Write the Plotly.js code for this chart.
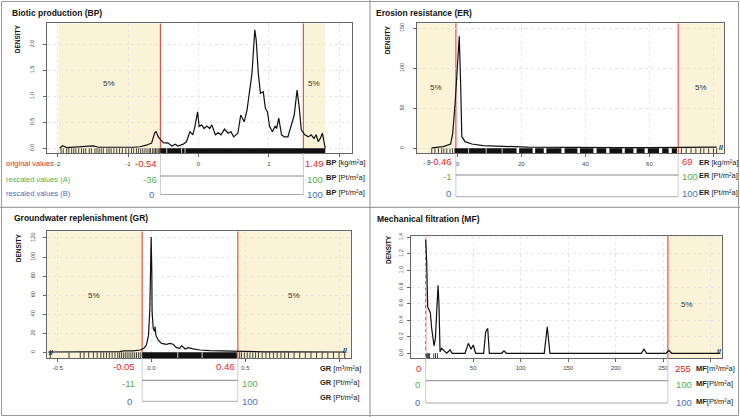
<!DOCTYPE html>
<html><head><meta charset="utf-8">
<script src="https://cdn.plot.ly/plotly-3.0.1.min.js"></script>
<style>html,body{margin:0;padding:0;background:#fff}#chart{width:740px;height:417px}</style>
</head><body><div id="chart"></div>
<script>
// ---------- Biotic production (BP) ----------
const bpX = [-1.97,-1.93,-1.87,-1.80,-1.70,-1.60,-1.49,-1.42,-1.30,-1.20,-1.10,-1.02,-0.92,-0.83,-0.74,-0.665,-0.62,-0.60,-0.585,-0.57,-0.54,-0.50,-0.43,-0.38,-0.33,-0.29,-0.215,-0.17,-0.12,-0.08,-0.05,-0.012,0.01,0.045,0.08,0.12,0.16,0.19,0.24,0.28,0.32,0.37,0.42,0.46,0.50,0.56,0.60,0.65,0.69,0.73,0.76,0.80,0.82,0.85,0.88,0.92,0.95,0.98,1.01,1.05,1.09,1.11,1.14,1.18,1.22,1.27,1.32,1.36,1.40,1.43,1.46,1.51,1.56,1.60,1.64,1.67,1.70,1.73,1.76,1.78,1.80];
const bpY = [0.0,0.05,0.015,0.02,0.02,0.025,0.045,0.02,0.02,0.025,0.02,0.015,0.02,0.03,0.06,0.10,0.30,0.32,0.26,0.22,0.17,0.11,0.10,0.045,0.08,0.045,0.08,0.13,0.32,0.26,0.42,0.70,0.42,0.45,0.38,0.43,0.38,0.45,0.26,0.30,0.26,0.37,0.29,0.32,0.22,0.29,0.64,0.51,0.74,1.12,1.44,2.28,2.08,1.44,1.06,1.09,0.77,0.70,0.42,0.32,0.43,0.38,0.58,0.26,0.22,0.22,0.48,0.64,1.12,0.80,0.35,0.26,0.22,0.26,0.19,0.26,0.13,0.19,0.29,0.13,0.0];
const bpRug = [-1.95,-1.92,-1.87,-1.84,-1.80,-1.77,-1.74,-1.70,-1.66,-1.63,-1.60,-1.55,-1.52,-1.47,-1.44,-1.41,-1.38,-1.35,-1.30,-1.27,-1.24,-1.20,-1.16,-1.12,-1.08,-1.03,-0.99,-0.95,-0.92,-0.88,-0.85,-0.82,-0.79,-0.76,-0.73,-0.70,-0.68,-0.65,-0.63,-0.61,-0.59,-0.57,-0.55];
const bpDense = [[-0.54, 1.80]];
const bpGaps = [-0.45, -0.24, -0.19];
const bpLo = -0.54, bpHi = 1.49, bpMin = -1.99, bpMax = 1.80;
const bpA = [-36, 100], bpB = [0, 100];
const bpXt = [-2,-1,0,1,2], bpXl = ['-2','-1','0','1',''];
const bpYt = [0,0.5,1,1.5,2], bpYl = ['0.0','0.5','1.0','1.5','2.0'];

// ---------- Erosion resistance (ER) ----------
const erX = [-8,-6,-4.4,-2.1,-1.45,-0.7,0.1,0.6,1.05,1.4,2.4,4.5,8.1,12,16.5,18,22,28,29,31,40,50,60,70,78,81];
const erY = [0.5,1.2,2.1,5.4,18.7,56,110,140,77,14.5,8.3,5.4,3.3,3.0,2.9,2.0,1.5,1.2,1.8,1.1,1.0,0.9,0.8,0.7,0.8,1.5];
const erRug = [-8,-7,-5.9,-4.9,-4.2,-3.3,-2.3,-1.5,70,71.5,73,74.5,76,77,78.5,80,81];
const erDense = [[-0.9,18.5],[19.3,23.5],[24.3,27],[27.8,32.5],[33.5,37.5],[38.3,42.5],[43.5,46.5],[47.5,51.5],[52.3,55],[56,58.5],[59.5,63],[64,66],[67,68.6]];
const erGaps = [3.5, 9, 14];
const erLo = -0.46, erHi = 69, erMin = -8;
const erA = [-1, 100], erB = [0, 100];
const erXt = [0,20,40,60,80], erXl = ['0','20','40','60',''];
const erYt = [0,50,100,150], erYl = ['0','50','100','150'];

// ---------- Groundwater replenishment (GR) ----------
const grX = [-0.55,-0.45,-0.35,-0.30,-0.27,-0.20,-0.169,-0.15,-0.12,-0.098,-0.06,-0.041,-0.027,-0.016,-0.009,-0.005,-0.002,0.0016,0.003,0.009,0.016,0.019,0.023,0.035,0.053,0.08,0.097,0.115,0.133,0.15,0.16,0.18,0.195,0.222,0.257,0.31,0.363,0.434,0.45,0.5,0.6,0.7,0.8,0.9,1.03];
const grY = [0.3,0.3,0.5,1.0,0.5,0.8,0.7,1.5,1.0,1.4,2.4,4.2,7.7,18,46,81,121,83,42.7,25,22,27,18,13,9.4,8.4,9.4,8.4,4.9,4.2,7,3.5,4.9,3.5,2.4,1.7,1.4,1.0,1.4,0.6,0.5,0.4,0.3,0.3,0.3];
const grRug = [-0.54,-0.44,-0.38,-0.36,-0.335,-0.31,-0.29,-0.27,-0.255,-0.24,-0.225,-0.21,-0.195,-0.18,-0.17,-0.16,-0.15,-0.14,-0.13,-0.12,-0.11,-0.10,-0.09,-0.08,-0.07,-0.06,0.47,0.48,0.495,0.51,0.525,0.54,0.555,0.57,0.59,0.61,0.63,0.65,0.67,0.69,0.71,0.73,0.76,0.79,0.82,0.85,0.88,0.91,0.94,0.97,1.0,1.03];
const grDense = [[-0.05, 0.455]];
const grGaps = [0.14, 0.27];
const grLo = -0.05, grHi = 0.46;
const grA = [-11, 100], grB = [0, 100];
const grXt = [-0.5,0,0.5,1], grXl = ['-0.5','0.0','0.5',''];
const grYt = [0,20,40,60,80,100,120], grYl = ['0','20','40','60','80','100','120'];

// ---------- Mechanical filtration (MF) ----------
const mfX = [0,1.05,2.1,3.5,4.9,6.3,7.7,8.8,10.2,11.6,13,14,15.1,16.8,19.6,22,25.6,28,41.4,44.9,47.7,50.1,52.6,61,63.2,65.3,67,80,82.4,84.9,124.8,128,130.8,227,229.8,232.6,253,256,259,310];
const mfY = [1.37,1.1,0.56,0.52,0.49,0.30,0.16,0.09,0.18,0.46,0.82,0.58,0.02,0.06,0.02,0.0,0.04,0.0,0.0,0.12,0.05,0.10,0.0,0.0,0.26,0.30,0.0,0.0,0.03,0.0,0.0,0.32,0.0,0.0,0.05,0.0,0.0,0.035,0.0,0.0];
const mfRug = [0.7,1.8,2.9,4.0,8.5,10.3,12.4];
const mfLo = 0, mfHi = 255;
const mfA = [0, 100], mfB = [0, 100];
const mfXt = [0,50,100,150,200,250,300], mfXl = ['','50','100','150','200','250',''];
const mfYt = [0,0.2,0.4,0.6,0.8,1.0,1.2,1.4], mfYl = ['0.0','0.2','0.4','0.6','0.8','1.0','1.2','1.4'];

// ---------- styling / layout ----------
const W = 740, H = 417;
const SHADE = '#faf3d7', REDL = '#e25555';
const RED = '#e3262a', GREEN = '#52b052', BLUE = '#4a6fc2';
const FONT = 'Liberation Sans, Arial, sans-serif';
const px = X => X / W, py = Y => 1 - Y / H;

const data = [];
const layout = {
  width: W, height: H, margin: {l:0, r:0, t:0, b:0},
  paper_bgcolor: '#ffffff', plot_bgcolor: 'rgba(0,0,0,0)', showlegend: false,
  font: {family: FONT, color: '#222'},
  shapes: [], annotations: []
};
const axisBase = {
  showline: true, mirror: true, linecolor: '#666', linewidth: 1,
  ticks: 'outside', ticklen: 3, tickcolor: '#666', tickwidth: 1,
  showgrid: true, gridcolor: '#e6e6e6', griddash: 'dot', gridwidth: 1,
  zeroline: false, fixedrange: true, tickmode: 'array',
  tickfont: {size: 6, color: '#444', family: FONT}
};

function ann(text, xref, x, yref, y, size, color, anchor, extra) {
  layout.annotations.push(Object.assign({
    text: text, xref: xref, x: x, yref: yref, y: y, showarrow: false,
    xanchor: anchor || 'center', yanchor: 'middle',
    font: {size: size, color: color, family: FONT}
  }, extra || {}));
}
function line(xref, x0, x1, yref, y0, y1, color, width, layer) {
  layout.shapes.push({type: 'line', xref: xref, yref: yref, x0: x0, x1: x1, y0: y0, y1: y1,
    line: {color: color, width: width}, layer: layer || 'above'});
}

function addPanel(c) {
  const xa = 'x' + c.n, ya = 'y' + c.n;
  layout['xaxis' + c.n] = Object.assign({}, axisBase, {
    domain: [px(c.box[0]), px(c.box[2])], range: c.xr, tickvals: c.xt, ticktext: c.xl,
    anchor: ya, ticklabelstandoff: 1
  });
  layout['yaxis' + c.n] = Object.assign({}, axisBase, {
    domain: [py(c.box[3]), py(c.box[1])], range: c.yr, tickvals: c.yt, ticktext: c.yl,
    anchor: xa, tickangle: -90, ticklabelstandoff: c.ystand,
    tickfont: {size: 5.5, color: '#444', family: FONT}
  });
  const y0 = c.yr[0], y1 = c.yr[1];
  // shaded 5% zones
  c.shade.forEach(s => layout.shapes.push({type: 'rect', xref: xa, yref: ya,
    x0: s[0], x1: s[1], y0: y0, y1: y1, fillcolor: SHADE, line: {width: 0}, layer: 'below'}));
  c.shadeText.forEach(t => ann('5%', xa, t[0], ya, y0 + t[1] * (y1 - y0), 8, '#333', 'center'));
  // red threshold lines
  [c.lo, c.hi].forEach(v => line(xa, v, v, ya, y0, y1, REDL, 1.2, 'below'));
  // density curve
  data.push({x: c.cx, y: c.cy, xaxis: xa, yaxis: ya, mode: 'lines',
    line: {color: '#111', width: 1.2}, hoverinfo: 'skip'});
  // rug
  const rx = [], ry = [];
  c.rug.forEach(v => { rx.push(v, v, null); ry.push(y0, 0, null); });
  data.push({x: rx, y: ry, xaxis: xa, yaxis: ya, mode: 'lines',
    line: {color: '#111', width: 0.8}, hoverinfo: 'skip'});
  const dx = [], dy = [];
  (c.dense || []).forEach(s => { dx.push(s[0], s[1], s[1], s[0], s[0], null); dy.push(y0, y0, 0, 0, y0, null); });
  if (dx.length) data.push({x: dx, y: dy, xaxis: xa, yaxis: ya, mode: 'lines', fill: 'toself',
    fillcolor: '#111', line: {width: 0, color: '#111'}, hoverinfo: 'skip'});
  const gx = [], gy = [];
  (c.gaps || []).forEach(v => { gx.push(v, v, null); gy.push(y0, 0, null); });
  if (gx.length) data.push({x: gx, y: gy, xaxis: xa, yaxis: ya, mode: 'lines',
    line: {color: '#ffffff', width: 0.8}, hoverinfo: 'skip'});
  // axis break marks
  (c.breaks || []).forEach(b => ann('<b>//</b>', xa, b[0], ya, b[1], 7, '#111', 'center'));
  // title and DENSITY label
  ann('<b>' + c.title + '</b>', 'paper', px(c.titlePos[0]), 'paper', py(c.titlePos[1]), 8.5, '#111', 'left');
  ann('<b>DENSITY</b>', 'paper', px(c.densPos[0]), 'paper', py(c.densPos[1]), 6.5, '#111', 'center', {textangle: -90});
  // scale block below plot
  const bot = c.box[3];
  [c.lo, c.hi].forEach(v => line(xa, v, v, 'paper', py(bot), py(c.lineB), '#cccccc', 1));
  line(xa, c.lo, c.hi, 'paper', py(c.lineA), py(c.lineA), '#888888', 1);
  line(xa, c.lo, c.hi, 'paper', py(c.lineB), py(c.lineB), '#aaaaaa', 1);
  ann(String(c.lo), xa, c.lo, 'paper', py(c.rows[0]), 9.5, RED, 'right', {xshift: c.sh[0]});
  ann(String(c.hi), xa, c.hi, 'paper', py(c.rows[0]), 9.5, RED, c.hiAnchor, {xshift: c.sh[1]});
  ann(String(c.A[0]), xa, c.lo, 'paper', py(c.rows[1]), 9.5, GREEN, 'right', {xshift: c.sh[2]});
  ann(String(c.A[1]), xa, c.hi, 'paper', py(c.rows[1]), 9.5, GREEN, 'left', {xshift: c.sh[3]});
  ann(String(c.B[0]), xa, c.lo, 'paper', py(c.rows[2]), 9.5, BLUE, 'right', {xshift: c.sh[4]});
  ann(String(c.B[1]), xa, c.hi, 'paper', py(c.rows[2]), 9.5, BLUE, 'left', {xshift: c.sh[5]});
  ann(c.unitO, 'paper', px(c.unitX), 'paper', py(c.unitRows[0]), 7.5, '#222', 'left');
  ann(c.unitP, 'paper', px(c.unitX), 'paper', py(c.unitRows[1]), 7.5, '#222', 'left');
  ann(c.unitP, 'paper', px(c.unitX), 'paper', py(c.unitRows[2]), 7.5, '#222', 'left');
}

const bpRange = [-2.15, 2.18], erRange = [-12.7, 83.3], grRange = [-0.559, 1.062], mfRange = [-15.8, 312.3];

addPanel({n: '', title: 'Biotic production (BP)', titlePos: [10, 13], densPos: [18.3, 39],
  box: [47, 23.3, 352, 153.3], xr: bpRange, yr: [-0.096, 2.404], xt: bpXt, xl: bpXl, yt: bpYt, yl: bpYl, ystand: 7,
  cx: bpX, cy: bpY, rug: bpRug, dense: bpDense, gaps: bpGaps,
  shade: [[bpMin, bpLo], [bpHi, bpMax]], shadeText: [[(bpMin + bpLo) / 2, 0.54], [(bpHi + bpMax) / 2, 0.54]],
  lo: bpLo, hi: bpHi, A: bpA, B: bpB, hiAnchor: 'left', sh: [-1.5, 0, -1.5, 2, -4, 2],
  rows: [163.3, 179, 194], lineA: 176, lineB: 194.5,
  unitX: 324.3, unitRows: [162.7, 177.7, 192.7],
  unitO: '<b>BP</b> [kg/m²a]', unitP: '<b>BP</b> [Pt/m²a]'});

addPanel({n: '2', title: 'Erosion resistance (ER)', titlePos: [374, 13], densPos: [388.3, 40],
  box: [416.7, 23.3, 724, 153.3], xr: erRange, yr: [-6.25, 156.25], xt: erXt, xl: erXl, yt: erYt, yl: erYl, ystand: 7,
  cx: erX, cy: erY, rug: erRug, dense: erDense, gaps: erGaps,
  shade: [[erRange[0], erLo], [erHi, erRange[1]]], shadeText: [[(erRange[0] + erLo) / 2, 0.505], [(erHi + erRange[1]) / 2, 0.505]],
  breaks: [[82.3, 1.5]],
  lo: erLo, hi: erHi, A: erA, B: erB, hiAnchor: 'left', sh: [-1.5, 2, -3, 2, -3, 2],
  rows: [161, 176.7, 193.3], lineA: 175, lineB: 196.7,
  unitX: 696.7, unitRows: [162, 175, 192],
  unitO: '<b>ER</b> [kg/m²a]', unitP: '<b>ER</b> [Pt/m²a]'});

addPanel({n: '3', title: 'Groundwater replenishment (GR)', titlePos: [12, 218.5], densPos: [18.3, 248],
  box: [46.7, 231.3, 350.7, 358], xr: grRange, yr: [-6, 127], xt: grXt, xl: grXl, yt: grYt, yl: grYl, ystand: 6,
  cx: grX, cy: grY, rug: grRug, dense: grDense, gaps: grGaps,
  shade: [[grRange[0], grLo], [grHi, grRange[1]]], shadeText: [[(grRange[0] + grLo) / 2, 0.49], [(grHi + grRange[1]) / 2, 0.49]],
  breaks: [[-0.538, -0.7], [1.034, 2.4]],
  lo: grLo, hi: grHi, A: grA, B: grB, hiAnchor: 'right', sh: [-5.5, -1, -5, 2, -8, 2],
  rows: [366.3, 383.7, 401.3], lineA: 380.3, lineB: 401.3,
  unitX: 318, unitRows: [368.7, 382, 397.3],
  unitO: '<b>GR</b> [m³/m²a]', unitP: '<b>GR</b> [Pt/m²a]'});

addPanel({n: '4', title: 'Mechanical filtration (MF)', titlePos: [374.7, 218.7], densPos: [388.3, 249.7],
  box: [410.7, 236, 722.3, 358], xr: mfRange, yr: [-0.057, 1.416], xt: mfXt, xl: mfXl, yt: mfYt, yl: mfYl, ystand: 2,
  cx: mfX, cy: mfY, rug: mfRug,
  shade: [[mfHi, mfRange[1]]], shadeText: [[(mfHi + mfRange[1]) / 2 - 9, 0.44]],
  breaks: [[309.3, 0.016]],
  lo: mfLo, hi: mfHi, A: mfA, B: mfB, hiAnchor: 'left', sh: [-3, 5, -4, 6, -4, 6],
  rows: [368.7, 384.7, 402], lineA: 380.7, lineB: 403,
  unitX: 694, unitRows: [368.7, 383.3, 401],
  unitO: '<b>MF</b>[m³/m²a]', unitP: '<b>MF</b>[Pt/m²a]'});

// row labels (left side) and extra min label
ann('original values', 'paper', px(4), 'paper', py(163.3), 7.5, RED, 'left');
ann('rescaled values (A)', 'paper', px(4), 'paper', py(179), 7.5, GREEN, 'left');
ann('rescaled values (B)', 'paper', px(4), 'paper', py(193.5), 7.5, BLUE, 'left');
ann('- 8', 'x2', erMin, 'paper', py(162), 6.5, '#444', 'right', {xshift: 1});

// panel separators and frame
line('paper', px(370), px(370), 'paper', 0, 1, '#8c8c8c', 1);
line('paper', 0, 1, 'paper', py(207.3), py(207.3), '#8c8c8c', 1);
layout.shapes.push({type: 'rect', xref: 'paper', yref: 'paper', x0: px(1.5), x1: px(738.5), y0: py(415.5), y1: py(1.5),
  line: {color: '#9a9a9a', width: 1}, fillcolor: 'rgba(0,0,0,0)', layer: 'above'});

Plotly.newPlot('chart', data, layout, {displayModeBar: false, staticPlot: true});
</script></body></html>
